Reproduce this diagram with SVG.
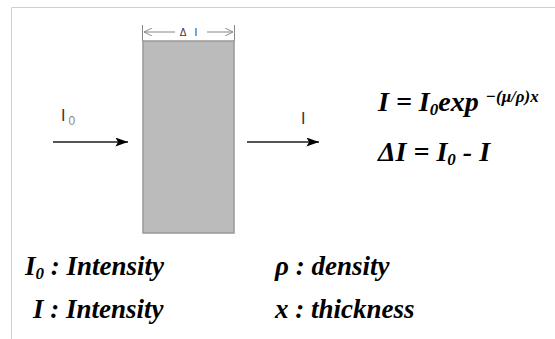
<svg xmlns="http://www.w3.org/2000/svg" width="555" height="339" viewBox="0 0 555 339">
<defs>
<style>
.lbl{font-family:"Liberation Serif","Times New Roman",serif;font-weight:bold;font-style:italic;fill:#000;}
.sm{font-family:"Liberation Sans",Arial,sans-serif;fill:#333;}
.ar{stroke:#555;stroke-width:2;fill:none;}
.dim{stroke:#888;stroke-width:1;fill:none;}
</style>
<marker id="ah" viewBox="0 0 14 10" refX="14" refY="5" markerWidth="14" markerHeight="9" orient="auto" markerUnits="userSpaceOnUse"><path d="M0,0 L14,5 L0,10 L3,5 z" fill="#000"/></marker>
<marker id="dh" viewBox="0 0 10 10" refX="10" refY="5" markerWidth="10" markerHeight="8" orient="auto" markerUnits="userSpaceOnUse"><path d="M0,0 L10,5 L0,10" fill="none" stroke="#888" stroke-width="1.2"/></marker>
</defs>
<rect width="555" height="339" fill="#fff"/>
<path d="M11.5,339 V7.5 H555" stroke="#d0d0d0" stroke-width="1" fill="none"/>
<g id="sample">
<rect x="143" y="41" width="91" height="192" fill="#bbbbbb" stroke="#999" stroke-width="1.5"/>
</g>
<g id="dimension">
<line class="dim" x1="175" y1="32" x2="144" y2="32" marker-end="url(#dh)"/>
<line class="dim" x1="207" y1="32" x2="233" y2="32" marker-end="url(#dh)"/>
<line class="dim" x1="142.5" y1="25" x2="142.5" y2="41"/>
<line class="dim" x1="234.5" y1="25" x2="234.5" y2="41"/>
<text class="sm" x="190" y="36" font-size="10" text-anchor="middle" letter-spacing="3">Δ I</text>
</g>
<g id="connectors">
<line class="ar" x1="53" y1="142" x2="128" y2="142" marker-end="url(#ah)"/>
<line class="ar" x1="247" y1="142" x2="319" y2="142" marker-end="url(#ah)"/>
</g>
<g id="labels">
<text class="sm" x="61" y="121" font-size="16">I<tspan font-size="12" dy="4" dx="3" fill="#888">0</tspan></text>
<text class="sm" x="301" y="124" font-size="16">I</text>
</g>
<g id="formulas" font-family="Liberation Serif, serif" font-weight="bold" font-style="italic">
<text x="378" y="111" font-size="28">I = I<tspan font-size="17" dy="4">0</tspan><tspan dy="-4">exp </tspan><tspan font-size="17" dy="-9">−(μ/ρ)x</tspan></text>
<text x="378" y="161" font-size="28">ΔI = I<tspan font-size="17" dy="4">0</tspan><tspan dy="-4"> - I</tspan></text>
</g>
<g id="legend" font-family="Liberation Serif, serif" font-weight="bold" font-style="italic">
<text x="25" y="275" font-size="27">I<tspan font-size="17" dy="4">0</tspan><tspan dy="-4"> : Intensity</tspan></text>
<text x="275" y="275" font-size="27">ρ : density</text>
<text x="33" y="318" font-size="27">I : Intensity</text>
<text x="275" y="318" font-size="27">x : thickness</text>
</g>
</svg>
